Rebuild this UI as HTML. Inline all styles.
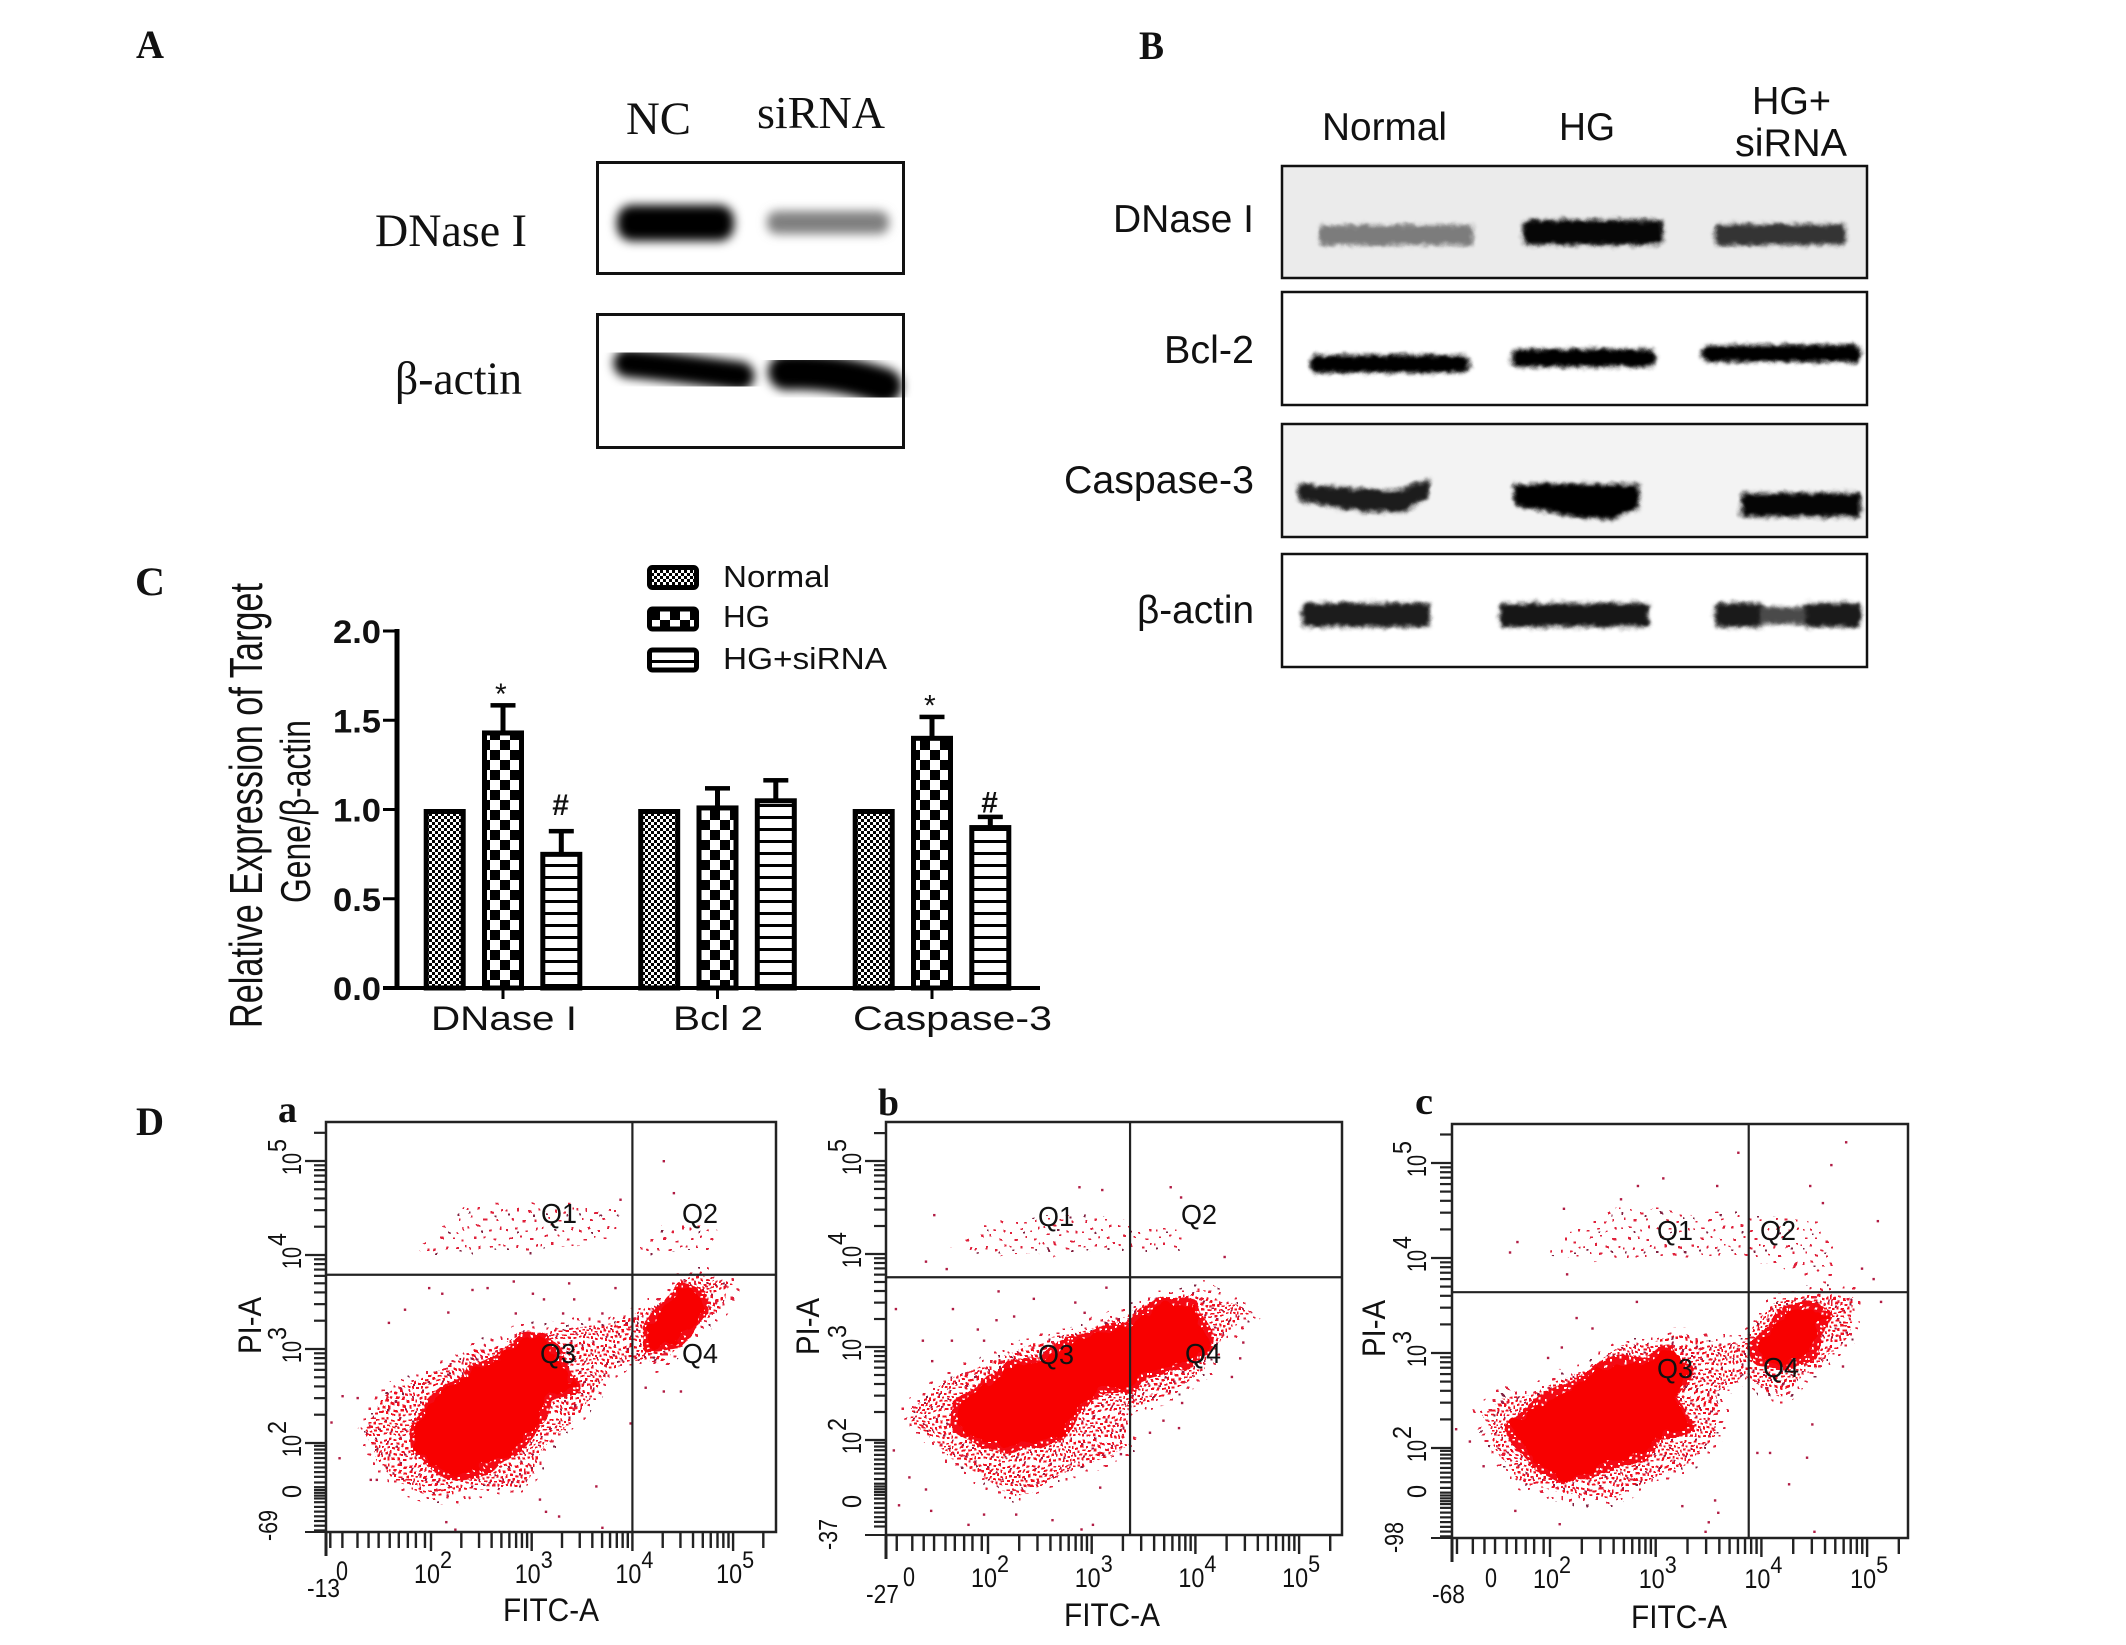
<!DOCTYPE html>
<html lang="en">
<head>
<meta charset="utf-8">
<title>DNase I western blots, expression chart and flow cytometry</title>
<style>
html,body{margin:0;padding:0;background:#fff;}
svg{display:block;}
text{fill:#111;}
.serif{font-family:"Liberation Serif",serif;}
.sans{font-family:"Liberation Sans",sans-serif;}
.bold{font-weight:bold;}
</style>
</head>
<body>
<svg id="fig" xmlns="http://www.w3.org/2000/svg" width="2126" height="1645" viewBox="0 0 2126 1645">
<defs>
<filter id="blurA" x="-30%" y="-80%" width="160%" height="260%"><feGaussianBlur stdDeviation="5"/></filter>
<filter id="roughB" x="-10%" y="-60%" width="120%" height="220%" color-interpolation-filters="sRGB">
<feGaussianBlur in="SourceGraphic" stdDeviation="2" result="b"/>
<feTurbulence type="fractalNoise" baseFrequency="0.1" numOctaves="2" seed="4" result="n"/>
<feDisplacementMap in="b" in2="n" scale="6" xChannelSelector="R" yChannelSelector="G"/>
</filter>
<filter id="roughCore" x="-15%" y="-15%" width="130%" height="130%" color-interpolation-filters="sRGB">
<feTurbulence type="fractalNoise" baseFrequency="0.07" numOctaves="2" seed="7" result="n"/>
<feDisplacementMap in="SourceGraphic" in2="n" scale="16" xChannelSelector="R" yChannelSelector="G"/>
</filter>
<filter id="roughCloud" x="-15%" y="-25%" width="130%" height="150%" color-interpolation-filters="sRGB">
<feTurbulence type="fractalNoise" baseFrequency="0.03" numOctaves="2" seed="11" result="n"/>
<feDisplacementMap in="SourceGraphic" in2="n" scale="14" xChannelSelector="R" yChannelSelector="G"/>
</filter>
<pattern id="fineCheck" patternUnits="userSpaceOnUse" width="6" height="6"><rect width="6" height="6" fill="#fff"/><rect width="3" height="3" fill="#000"/><rect x="3" y="3" width="3" height="3" fill="#000"/></pattern>
<pattern id="coarseCheck" patternUnits="userSpaceOnUse" width="20" height="20"><rect width="20" height="20" fill="#fff"/><rect width="10" height="10" fill="#000"/><rect x="10" y="10" width="10" height="10" fill="#000"/></pattern>
<pattern id="stripes" patternUnits="userSpaceOnUse" width="12" height="12"><rect width="12" height="12" fill="#fff"/><rect width="12" height="3" fill="#000"/></pattern>
<pattern id="speckleMid" patternUnits="userSpaceOnUse" width="16" height="16">
<rect width="16" height="16" fill="#f40a14"/>
<g fill="#fff">
<rect x="1" y="1" width="2" height="2"/><rect x="7" y="3" width="2" height="2"/><rect x="12" y="0" width="2" height="2"/>
<rect x="3" y="7" width="2" height="2"/><rect x="10" y="8" width="2" height="2"/>
<rect x="0" y="12" width="2" height="2"/><rect x="6" y="13" width="2" height="2"/><rect x="13" y="12" width="2" height="2"/>
</g>
</pattern>
<pattern id="speckleDense" patternUnits="userSpaceOnUse" width="24" height="24">
<rect width="24" height="24" fill="#fff"/>
<g fill="#f01020">
<rect x="0" y="1" width="3" height="2"/><rect x="5" y="0" width="2" height="3"/><rect x="9" y="2" width="3" height="2"/><rect x="14" y="0" width="3" height="2"/><rect x="19" y="2" width="3" height="2"/>
<rect x="2" y="5" width="3" height="2"/><rect x="7" y="6" width="2" height="2"/><rect x="12" y="5" width="3" height="2"/><rect x="17" y="5" width="2" height="3"/><rect x="21" y="7" width="3" height="2"/>
<rect x="0" y="10" width="2" height="3"/><rect x="4" y="9" width="3" height="2"/><rect x="9" y="10" width="3" height="2"/><rect x="14" y="9" width="2" height="3"/><rect x="18" y="11" width="3" height="2"/>
<rect x="2" y="14" width="3" height="2"/><rect x="7" y="13" width="2" height="3"/><rect x="11" y="15" width="3" height="2"/><rect x="16" y="14" width="3" height="2"/><rect x="21" y="15" width="2" height="2"/>
<rect x="0" y="18" width="3" height="2"/><rect x="5" y="18" width="2" height="3"/><rect x="9" y="19" width="3" height="2"/><rect x="14" y="18" width="2" height="3"/><rect x="18" y="19" width="3" height="2"/>
</g>
<g fill="#a01840">
<rect x="3" y="3" width="2" height="2"/><rect x="12" y="8" width="2" height="2"/><rect x="20" y="13" width="2" height="2"/><rect x="6" y="16" width="2" height="2"/><rect x="15" y="22" width="2" height="2"/>
</g>
</pattern>
<pattern id="speckleSparse" patternUnits="userSpaceOnUse" width="36" height="36">
<g fill="#e0203a">
<rect x="2" y="4" width="2" height="2"/><rect x="11" y="2" width="3" height="2"/><rect x="22" y="6" width="2" height="2"/><rect x="31" y="3" width="2" height="3"/>
<rect x="6" y="13" width="3" height="2"/><rect x="17" y="12" width="2" height="2"/><rect x="27" y="15" width="3" height="2"/>
<rect x="1" y="22" width="2" height="2"/><rect x="12" y="21" width="2" height="3"/><rect x="22" y="24" width="3" height="2"/><rect x="32" y="21" width="2" height="2"/>
<rect x="7" y="30" width="2" height="2"/><rect x="17" y="31" width="3" height="2"/><rect x="28" y="31" width="2" height="2"/>
</g>
<g fill="#802040"><rect x="14" y="7" width="2" height="2"/><rect x="4" y="26" width="2" height="2"/><rect x="26" y="27" width="2" height="2"/></g>
</pattern>
</defs>

<rect width="2126" height="1645" fill="#fff"/>

<!-- Panel letters -->
<text class="serif bold" x="136" y="58" font-size="40" textLength="28" lengthAdjust="spacingAndGlyphs">A</text>
<text class="serif bold" x="1139" y="59" font-size="40" textLength="25" lengthAdjust="spacingAndGlyphs">B</text>
<text class="serif bold" x="135" y="595" font-size="40" textLength="30" lengthAdjust="spacingAndGlyphs">C</text>
<text class="serif bold" x="136" y="1135" font-size="40" textLength="28" lengthAdjust="spacingAndGlyphs">D</text>
<text class="serif bold" x="278" y="1122" font-size="38" textLength="19" lengthAdjust="spacingAndGlyphs">a</text>
<text class="serif bold" x="878" y="1115" font-size="38" textLength="21" lengthAdjust="spacingAndGlyphs">b</text>
<text class="serif bold" x="1415" y="1114" font-size="38" textLength="18" lengthAdjust="spacingAndGlyphs">c</text>

<!-- Panel A -->
<g>
<text class="serif" x="626" y="134" font-size="47" textLength="65" lengthAdjust="spacingAndGlyphs">NC</text>
<text class="serif" x="757" y="128" font-size="46" textLength="128" lengthAdjust="spacingAndGlyphs">siRNA</text>
<text class="serif" x="375" y="246" font-size="47" textLength="152" lengthAdjust="spacingAndGlyphs">DNase I</text>
<text class="serif" x="395" y="394" font-size="47" textLength="127" lengthAdjust="spacingAndGlyphs">β-actin</text>
<rect x="617" y="205" width="117" height="36" rx="15" fill="#000" filter="url(#blurA)"/>
<rect x="767" y="211" width="122" height="23" rx="10" fill="#808080" filter="url(#blurA)"/>
<path d="M628 363 Q680 368 740 376" stroke="#000" stroke-width="29" stroke-linecap="round" fill="none" filter="url(#blurA)"/>
<path d="M786 372 Q835 370 884 386" stroke="#000" stroke-width="36" stroke-linecap="round" fill="none" filter="url(#blurA)"/>
<rect x="597.5" y="162.5" width="306" height="111" fill="none" stroke="#111" stroke-width="3"/>
<rect x="597.5" y="314.5" width="306" height="133" fill="none" stroke="#111" stroke-width="3"/>
</g>

<!-- Panel B -->
<g>
<text class="sans" x="1322" y="140" font-size="39" textLength="125" lengthAdjust="spacingAndGlyphs">Normal</text>
<text class="sans" x="1559" y="140" font-size="39" textLength="56" lengthAdjust="spacingAndGlyphs">HG</text>
<text class="sans" x="1752" y="114" font-size="39" textLength="79" lengthAdjust="spacingAndGlyphs">HG+</text>
<text class="sans" x="1735" y="156" font-size="39" textLength="112" lengthAdjust="spacingAndGlyphs">siRNA</text>
<text class="sans" x="1113" y="232" font-size="39" textLength="141" lengthAdjust="spacingAndGlyphs">DNase I</text>
<text class="sans" x="1164" y="363" font-size="39" textLength="90" lengthAdjust="spacingAndGlyphs">Bcl-2</text>
<text class="sans" x="1064" y="493" font-size="39" textLength="190" lengthAdjust="spacingAndGlyphs">Caspase-3</text>
<text class="sans" x="1137" y="623" font-size="39" textLength="117" lengthAdjust="spacingAndGlyphs">β-actin</text>

<rect x="1281" y="165" width="587" height="114" fill="#ebebeb"/>
<rect x="1281" y="423" width="587" height="115" fill="#f3f3f3"/>

<g filter="url(#roughB)">
<rect x="1319" y="225" width="154" height="20" rx="5" fill="#7c7c7c"/>
<rect x="1523" y="220" width="140" height="25" rx="5" fill="#060606"/>
<rect x="1715" y="224" width="131" height="21" rx="5" fill="#343434"/>
</g>
<g filter="url(#roughB)">
<rect x="1310" y="355" width="160" height="18" rx="8" fill="#000"/>
<rect x="1511" y="349" width="145" height="18" rx="8" fill="#000"/>
<rect x="1701" y="345" width="160" height="17" rx="8" fill="#000"/>
</g>
<g filter="url(#roughB)">
<path d="M1298 484 L1340 487 L1395 491 L1430 479 L1428 498 L1402 513 L1350 510 L1298 500 Z" fill="#1c1c1c"/>
<path d="M1514 484 L1639 484 L1639 508 L1612 520 L1570 516 L1514 505 Z" fill="#000"/>
<rect x="1741" y="493" width="120" height="24" rx="3" fill="#050505"/>
</g>
<g filter="url(#roughB)">
<rect x="1302" y="603" width="128" height="24" rx="4" fill="#1c1c1c"/>
<rect x="1500" y="603" width="149" height="24" rx="4" fill="#161616"/>
<rect x="1715" y="603" width="50" height="24" rx="4" fill="#1a1a1a"/>
<rect x="1760" y="607" width="52" height="17" fill="#4a4a4a"/>
<rect x="1805" y="603" width="56" height="24" rx="4" fill="#1a1a1a"/>
</g>
<rect x="1282" y="166" width="585" height="112" fill="none" stroke="#111" stroke-width="2.5"/>
<rect x="1282" y="292" width="585" height="113" fill="none" stroke="#111" stroke-width="2.5"/>
<rect x="1282" y="424" width="585" height="113" fill="none" stroke="#111" stroke-width="2.5"/>
<rect x="1282" y="554" width="585" height="113" fill="none" stroke="#111" stroke-width="2.5"/>
</g>

<g id="panelC"></g>
<g id="panelD"></g>
</svg>

<script>
// ---------- Panel C data ----------
const categories = ['DNase I', 'Bcl 2', 'Caspase-3'];
const seriesNames = ['Normal', 'HG', 'HG+siRNA'];
const normalValues = [1.0, 1.0, 1.0];
const hgValues = [1.44, 1.02, 1.41];
const sirnaValues = [0.76, 1.06, 0.91];
const normalErrors = [0, 0, 0];
const hgErrors = [0.145, 0.10, 0.11];
const sirnaErrors = [0.12, 0.105, 0.05];
const hgMarks = ['*', '', '*'];
const sirnaMarks = ['#', '', '#'];
const yTickLabels = ['0.0', '0.5', '1.0', '1.5', '2.0'];

// ---------- Panel D data: log10(FITC-A), log10(PI-A) ----------
const coreA = [[1.85,2.14],[2.02,2.40],[2.28,2.63],[2.45,2.78],[2.67,2.89],[2.88,3.04],[3.10,3.12],[3.25,2.85],[3.40,2.59],[3.14,2.52],[3.01,2.18],[2.80,1.91],[2.45,1.76],[2.28,1.65],[2.02,1.80],[1.87,1.95]];
const q4CoreA = [[4.18,3.19],[4.35,3.42],[4.48,3.61],[4.65,3.57],[4.69,3.42],[4.52,3.19],[4.39,3.08],[4.18,3.04]];
const haloA = [[1.33,2.10],[1.59,2.52],[2.02,2.74],[2.45,2.97],[2.88,3.16],[3.31,3.23],[3.75,3.27],[3.96,3.31],[4.26,3.46],[4.48,3.72],[4.69,3.80],[5.00,3.65],[4.78,3.34],[4.52,3.12],[4.26,2.85],[3.96,2.89],[3.75,2.78],[3.57,2.44],[3.31,2.18],[3.06,1.76],[2.88,1.54],[2.45,1.50],[2.11,1.42],[1.81,1.50],[1.46,1.80]];
const upperA = [[1.85,4.1],[2.2,4.35],[2.4,4.55],[3.5,4.55],[3.85,4.5],[3.85,4.15],[3.0,4.02],[1.95,4.03]];
const upperRightA = [[4.1,4.1],[4.3,4.3],[4.6,4.35],[4.9,4.25],[4.75,4.05],[4.2,4.03]];
const pointsA = [[1.12,2.50],[1.27,2.48],[1.01,2.22],[1.09,1.84],[1.58,3.28],[1.74,3.42],[1.98,3.65],[2.11,3.59],[2.17,3.39],[2.41,3.63],[2.56,3.65],[2.82,3.72],[2.84,3.38],[3.01,3.59],[3.12,3.53],[3.37,3.70],[3.42,3.53],[3.83,3.65],[3.31,3.38],[3.70,3.38],[4.13,2.59],[4.31,2.55],[4.48,2.55],[4.31,5.00],[4.41,4.66],[3.88,4.59],[3.64,1.54],[3.14,1.27],[3.27,1.22],[2.15,1.16],[2.24,1.08],[3.70,1.10],[3.08,1.40],[3.98,2.21],[1.40,1.61],[1.46,1.61]];

const coreB = [[1.73,2.34],[1.96,2.57],[2.25,2.76],[2.55,2.84],[2.84,3.03],[3.10,3.14],[3.36,3.18],[3.51,3.33],[3.69,3.45],[3.99,3.41],[4.06,3.18],[4.10,2.99],[3.87,2.84],[3.69,2.80],[3.43,2.72],[3.36,2.57],[3.10,2.61],[2.84,2.34],[2.69,2.08],[2.25,1.96],[1.96,2.00],[1.73,2.15]];
const haloB = [[1.25,2.34],[1.66,2.69],[2.10,2.84],[2.47,3.03],[2.92,3.18],[3.32,3.33],[3.62,3.52],[4.06,3.60],[4.58,3.37],[4.24,3.10],[4.10,2.76],[3.69,2.46],[3.39,2.34],[3.32,1.96],[2.99,1.73],[2.58,1.54],[2.25,1.39],[1.88,1.66],[1.59,1.85],[1.29,2.15]];
const upperB = [[1.6,4.1],[2.1,4.38],[2.9,4.45],[3.4,4.35],[3.85,4.3],[3.9,4.0],[3.0,4.0],[2.1,3.98]];
const pointsB = [[1.11,3.41],[1.66,3.41],[1.37,3.07],[1.65,3.07],[1.46,2.85],[1.90,3.19],[2.08,3.29],[2.25,3.33],[1.96,3.07],[2.44,3.52],[2.10,3.60],[2.84,3.48],[2.93,3.37],[3.14,3.64],[2.88,4.72],[3.10,4.69],[3.76,4.72],[3.86,4.61],[4.28,3.97],[1.48,4.42],[1.40,3.92],[1.60,3.84],[4.46,3.05],[4.43,2.88],[4.35,2.68],[3.87,2.40],[3.69,2.21],[3.56,2.08],[3.84,2.13],[1.09,1.89],[1.24,1.60],[1.40,1.47],[1.14,1.30],[1.45,1.24],[1.96,1.20],[1.81,1.09],[2.27,1.20],[2.90,1.04],[3.01,1.09],[2.62,1.14],[3.08,1.49],[3.28,1.85]];

const coreC = [[1.66,2.23],[1.87,2.42],[2.20,2.60],[2.49,2.83],[2.92,2.86],[3.11,3.01],[3.29,2.83],[3.14,2.57],[3.29,2.23],[3.00,2.16],[2.85,1.93],[2.67,1.90],[2.34,1.75],[2.13,1.67],[1.87,1.86],[1.73,2.08]];
const q4CoreC = [[3.96,3.05],[4.12,3.24],[4.23,3.39],[4.41,3.46],[4.61,3.39],[4.48,3.24],[4.45,3.01],[4.23,2.90],[4.01,2.94]];
const haloC = [[1.33,2.38],[1.62,2.57],[1.91,2.57],[2.31,2.83],[2.63,3.01],[3.07,3.16],[3.39,3.16],[3.83,3.05],[3.94,3.39],[4.23,3.57],[4.55,3.61],[4.88,3.57],[4.81,3.16],[4.48,2.83],[4.23,2.57],[4.05,2.57],[3.83,2.75],[3.58,2.57],[3.58,2.12],[3.29,1.82],[2.85,1.63],[2.63,1.49],[2.13,1.49],[1.66,1.67],[1.47,2.04]];
const upperC = [[1.95,4.1],[2.5,4.5],[3.2,4.5],[4.0,4.45],[4.6,4.4],[4.75,4.0],[4.6,3.7],[4.3,3.9],[3.6,4.0],[2.4,3.95]];
const pointsC = [[1.62,4.06],[1.69,4.17],[2.13,4.52],[2.67,4.62],[2.83,4.76],[3.07,4.84],[3.58,4.76],[3.78,5.11],[4.80,5.22],[4.66,4.98],[4.46,4.76],[4.58,4.58],[5.10,4.39],[4.95,3.89],[5.06,3.78],[5.13,3.54],[2.16,3.83],[2.25,3.37],[2.11,3.06],[1.98,2.95],[2.40,3.26],[2.82,3.54],[1.11,2.20],[1.24,2.07],[1.37,1.81],[1.67,1.34],[2.09,1.20],[3.25,1.39],[3.56,1.45],[3.59,1.32],[3.50,1.22],[3.47,1.12],[4.26,1.62],[4.43,1.90],[3.96,1.95],[4.08,1.95],[4.48,2.25],[4.77,2.86],[4.50,1.12]];

const gateA = [4.0, 3.79];
const gateB = [3.37, 3.75];
const gateC = [3.88, 3.64];
const decadeLabels = [2, 3, 4, 5];
const minorMultipliers = [2, 3, 4, 5, 6, 7, 8, 9];
const xLowTicks = [1.0, 1.12, 1.27, 1.38, 1.48, 1.59, 1.68, 1.77, 1.85, 1.94];
const yLowTicks = [1.97, 1.93, 1.89, 1.84, 1.79, 1.74, 1.69, 1.64, 1.58, 1.53, 1.5, 1.47, 1.44, 1.41, 1.37, 1.32, 1.27, 1.22, 1.17, 1.12, 1.07];
const quadrantNames = ['Q1', 'Q2', 'Q3', 'Q4'];

const NS = 'http://www.w3.org/2000/svg';
function el(parent, tag, attrs) {
  const e = document.createElementNS(NS, tag);
  for (const k in attrs) e.setAttribute(k, attrs[k]);
  parent.appendChild(e);
  return e;
}
function txt(parent, s, x, y, size, len, cls, rot) {
  const a = { x: x, y: y, 'font-size': size, 'class': cls || 'sans' };
  if (len) { a.textLength = len; a.lengthAdjust = 'spacingAndGlyphs'; }
  if (rot) a.transform = 'rotate(-90 ' + x + ' ' + y + ')';
  const t = el(parent, 'text', a);
  t.textContent = s;
  return t;
}

// ---------- Panel C ----------
(function () {
  const root = document.getElementById('panelC');
  const yZero = 988, yUnit = 178.5, axisX = 397;
  const groupStart = 503, groupStep = 214.5, barStep = 58.3, barW = 37;
  const yS = v => yZero - v * yUnit;
  const xS = (g, s) => groupStart + g * groupStep + (s - 1) * barStep;
  const fills = ['url(#fineCheck)', 'url(#coarseCheck)', 'url(#stripes)'];
  const values = [normalValues, hgValues, sirnaValues];
  const errors = [normalErrors, hgErrors, sirnaErrors];

  const t1 = txt(root, 'Relative Expression of Target', 262, 1028, 46, 445, 'sans', true);
  
  
  const t2 = txt(root, 'Gene/β-actin', 310, 903, 42, 183, 'sans', true);
  
  

  values.forEach((vals, s) => {
    vals.forEach((v, g) => {
      const cx = xS(g, s);
      const top = yS(v);
      if (errors[s][g] > 0) {
        const errTop = yS(v + errors[s][g]);
        const stem = el(root, 'rect', { x: cx - 2.5, y: errTop, width: 5, height: top - errTop, fill: '#000' });
        
        
        const cap = el(root, 'rect', { x: cx - 12.5, y: errTop - 2, width: 25, height: 4.5, fill: '#000' });
        
        
      }
      const bar = el(root, 'rect', { x: cx - barW / 2, y: top + 2, width: barW, height: yZero - top - 2, fill: fills[s], stroke: '#000', 'stroke-width': 5 });
      
      
    });
  });

  const yAxis = el(root, 'rect', { x: axisX - 2.5, y: yS(2) - 2, width: 5, height: yZero - yS(2) + 4, fill: '#000' });
  
  
  const xAxis = el(root, 'rect', { x: 383, y: yZero - 2, width: 657, height: 4, fill: '#000' });
  
  

  yTickLabels.forEach(label => {
    const v = parseFloat(label);
    const tick = el(root, 'rect', { x: 383, y: yS(v) - 1.5, width: 14, height: 3, fill: '#000' });
    
    
    const t = txt(root, label, 333, yS(v) + 12, 32, 48, 'sans bold');
    
    
  });

  const catX = [431, 673, 853];
  const catLen = [146, 90, 199];
  categories.forEach((c, g) => {
    const tick = el(root, 'rect', { x: xS(g, 1) - 1.5, y: yZero, width: 3, height: 11, fill: '#000' });
    
    
    const t = txt(root, c, catX[g], 1030, 34, catLen[g]);
    
    
  });

  const markFontSize = 30;
  const hashLift = { 0: 16, 2: 4 };
  hgMarks.forEach((m, g) => {
    if (!m) return;
    const t = txt(root, m, xS(g, 1) - 8, yS(hgValues[g] + hgErrors[g]) - 1, markFontSize);
    
    
  });
  sirnaMarks.forEach((m, g) => {
    if (!m) return;
    const t = txt(root, m, xS(g, 2) - 9, yS(sirnaValues[g] + sirnaErrors[g]) - hashLift[g], markFontSize, 0, 'sans bold');
    
    
  });

  const legendTop = [567.5, 609, 650];
  const legendLen = [107, 47, 164];
  const legendBase = [587, 627, 669];
  seriesNames.forEach((n, i) => {
    const sw = el(root, 'rect', { x: 649.5, y: legendTop[i], width: 47, height: 20, rx: 3, fill: fills[i], stroke: '#000', 'stroke-width': 5 });
    
    
    const t = txt(root, n, 723, legendBase[i], 31, legendLen[i]);
    
    
  });
})();

// ---------- Panel D ----------
function drawPlot(cfg) {
  const root = el(document.getElementById('panelD'), 'g', {});
  
  
  const b = cfg.box;
  const xS = v => cfg.x2 + (v - 2) * cfg.kx;
  const yS = v => cfg.y2 - (v - 2) * cfg.ky;
  const poly = pts => pts.map(p => xS(p[0]).toFixed(1) + ',' + yS(p[1]).toFixed(1)).join(' ');

  cfg.upper.forEach(u => {
    const p = el(root, 'polygon', { points: poly(u), fill: 'url(#speckleSparse)', filter: 'url(#roughCloud)' });
    
    
  });
  const halo = el(root, 'polygon', { points: poly(cfg.halo), fill: 'url(#speckleDense)', stroke: 'url(#speckleSparse)', 'stroke-width': 18, 'stroke-linejoin': 'round', filter: 'url(#roughCloud)' });
  
  
  cfg.cores.forEach(c => {
    const m = el(root, 'polygon', { points: poly(c), fill: '#f80000', stroke: 'url(#speckleMid)', 'stroke-width': 16, 'stroke-linejoin': 'round', filter: 'url(#roughCloud)' });
    
    
    const p = el(root, 'polygon', { points: poly(c), fill: '#f80000', stroke: '#f80000', 'stroke-width': 4, 'stroke-linejoin': 'round', filter: 'url(#roughCore)' });
    
    
  });
  cfg.points.forEach(pt => {
    const d = el(root, 'rect', { x: xS(pt[0]) - 1, y: yS(pt[1]) - 1, width: 2.4, height: 2.4, fill: '#b01c44' });
    
    
  });

  const frame = el(root, 'rect', { x: b[0], y: b[1], width: b[2] - b[0], height: b[3] - b[1], fill: 'none', stroke: '#222', 'stroke-width': 2.5 });
  
  
  const gv = el(root, 'line', { x1: xS(cfg.gate[0]), x2: xS(cfg.gate[0]), y1: b[1], y2: b[3], stroke: '#222', 'stroke-width': 2.2 });
  
  
  const gh = el(root, 'line', { x1: b[0], x2: b[2], y1: yS(cfg.gate[1]), y2: yS(cfg.gate[1]), stroke: '#222', 'stroke-width': 2.2 });
  
  

  // ticks
  const xT = [], yT = [];
  xLowTicks.forEach(v => { xT.push([v, 16]); });
  yLowTicks.forEach(v => { yT.push([v, 12]); });
  decadeLabels.forEach(d => {
    xT.push([d, 19]);
    yT.push([d, 21]);
    if (d < 5) minorMultipliers.forEach(m => {
      xT.push([d + Math.log10(m), 16]);
      yT.push([d + Math.log10(m), 12]);
    });
  });
  xT.push([5.3, 16]);
  yT.push([5.3, 12]);
  xT.forEach(t => {
    const x = xS(t[0]);
    if (x < b[0] || x > b[2]) return;
    const l = el(root, 'line', { x1: x, x2: x, y1: b[3], y2: b[3] + t[1], stroke: '#222', 'stroke-width': 2.4 });
    
    
  });
  yT.forEach(t => {
    const y = yS(t[0]);
    if (y > b[3] || y < b[1]) return;
    const l = el(root, 'line', { x1: b[0] - t[1], x2: b[0], y1: y, y2: y, stroke: '#222', 'stroke-width': 2.2 });
    
    
  });
  const c1 = el(root, 'line', { x1: b[0], x2: b[0], y1: b[3], y2: b[3] + 24, stroke: '#222', 'stroke-width': 3 });
  
  
  const c2 = el(root, 'line', { x1: b[0] - 21, x2: b[0], y1: b[3], y2: b[3], stroke: '#222', 'stroke-width': 2 });
  
  

  // decade labels
  decadeLabels.forEach(d => {
    const t10 = txt(root, '10', xS(d) - 17, cfg.xBase, 27, 26);
    
    
    const ts = txt(root, String(d), xS(d) + 9, cfg.xBase - 15, 24, 12);
    
    
  });
  decadeLabels.forEach(d => {
    const t10 = txt(root, '10', cfg.yBase, yS(d) + 14, 27, 22, 'sans', true);
    
    
    const ts = txt(root, String(d), cfg.yBase - 15, yS(d) - 9, 26, 13, 'sans', true);
    
    
  });

  const zeroX = txt(root, '0', cfg.zeroX[0], cfg.zeroX[1], 27, 12);
  
  
  const zeroY = txt(root, '0', cfg.yBase, cfg.zeroY + 6, 27, 13, 'sans', true);
  
  
  const minX = txt(root, cfg.minX[0], cfg.minX[1], cfg.minX[2], 26, 33);
  
  
  const minY = txt(root, cfg.minY[0], cfg.minY[1], cfg.minY[2], 26, 31, 'sans', true);
  
  

  const xTitle = txt(root, 'FITC-A', cfg.xTitle[0], cfg.xTitle[1], 32, 96);
  
  
  const yTitle = txt(root, 'PI-A', cfg.yTitle[0], cfg.yTitle[1], 32, 57, 'sans', true);
  
  

  quadrantNames.forEach((q, i) => {
    const t = txt(root, q, cfg.q[i][0], cfg.q[i][1], 28, 36);
    
    
  });
}

drawPlot({ name: 'flow-plot-a', box: [326, 1122, 776, 1532], x2: 431, kx: 100.7, y2: 1443, ky: 94, gate: gateA, cores: [coreA, q4CoreA], halo: haloA, upper: [upperA, upperRightA], points: pointsA, xBase: 1583, yBase: 301, zeroX: [336, 1580], zeroY: 1492, minX: ['-13', 307, 1597], minY: ['-69', 277, 1541], xTitle: [503, 1621], yTitle: [261, 1354], q: [[541, 1223], [682, 1223], [540, 1363], [682, 1363]] });
drawPlot({ name: 'flow-plot-b', box: [886, 1122, 1342, 1535], x2: 988, kx: 103.7, y2: 1440, ky: 93, gate: gateB, cores: [coreB], halo: haloB, upper: [upperB], points: pointsB, xBase: 1587, yBase: 861, zeroX: [903, 1586], zeroY: 1502, minX: ['-27', 866, 1603], minY: ['-37', 837, 1550], xTitle: [1064, 1626], yTitle: [819, 1355], q: [[1038, 1226], [1181, 1224], [1038, 1364], [1185, 1363]] });
drawPlot({ name: 'flow-plot-c', box: [1452, 1124, 1908, 1538], x2: 1550, kx: 105.7, y2: 1448, ky: 95, gate: gateC, cores: [coreC, q4CoreC], halo: haloC, upper: [upperC], points: pointsC, xBase: 1588, yBase: 1426, zeroX: [1485, 1587], zeroY: 1492, minX: ['-68', 1432, 1603], minY: ['-98', 1403, 1553], xTitle: [1631, 1628], yTitle: [1385, 1357], q: [[1657, 1240], [1760, 1240], [1657, 1378], [1763, 1377]] });
</script>
</body>
</html>
